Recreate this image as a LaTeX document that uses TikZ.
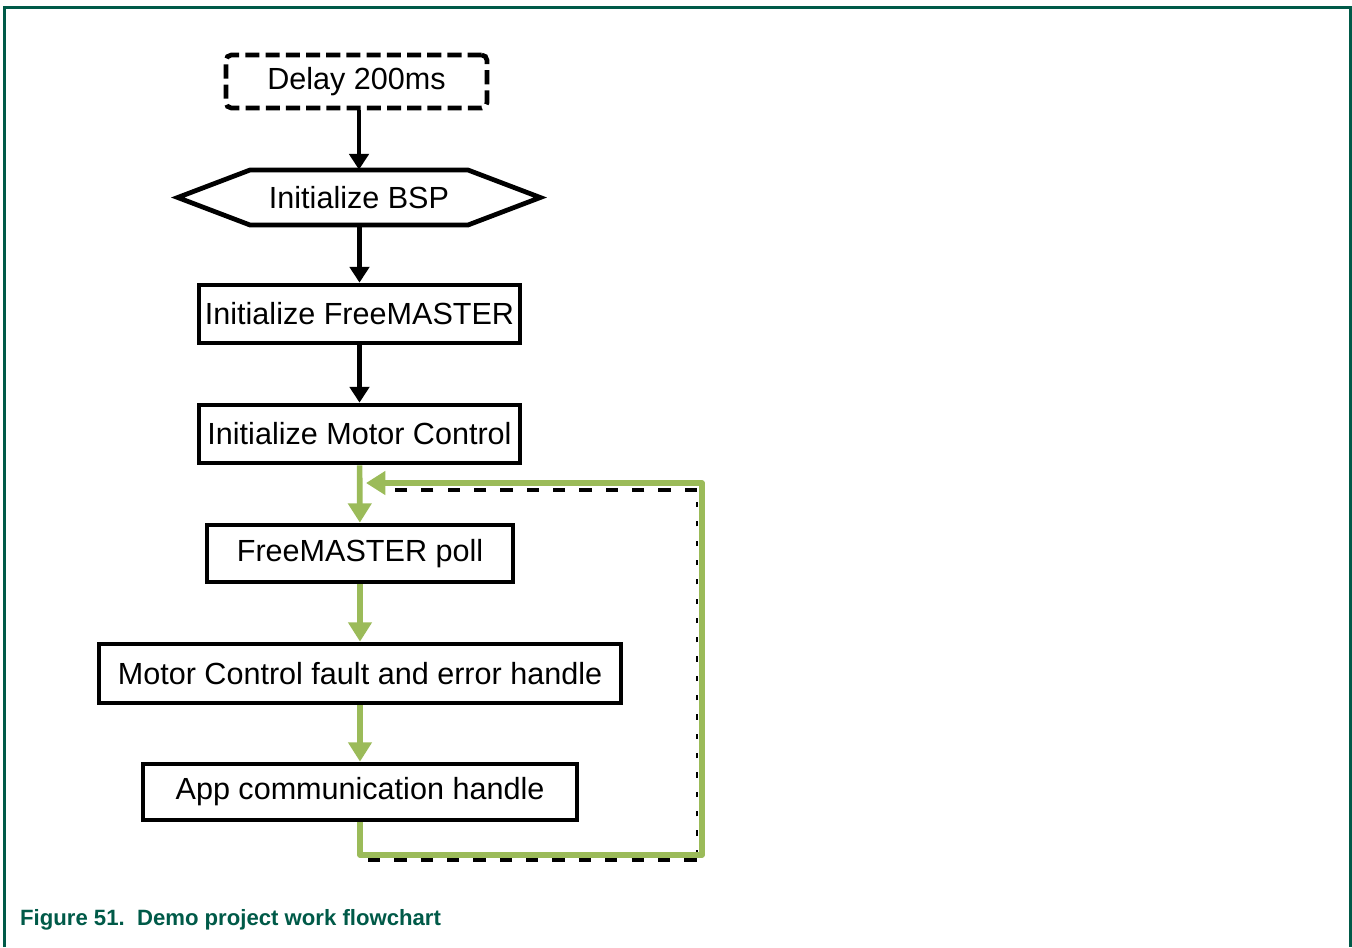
\documentclass[tikz,border=0pt]{standalone}
\usepackage{fontspec}
\setmainfont{Liberation Sans}
\usetikzlibrary{arrows.meta}
\definecolor{framegreen}{RGB}{0,90,72}
\definecolor{loopgreen}{RGB}{155,187,89}
\tikzset{
	box/.style={draw,line width=2.7pt,inner sep=0pt,font=\fontsize{17.4}{20}\selectfont},
	hexbox/.style={inner sep=0pt,font=\fontsize{17.4}{20}\selectfont},
	blkarrow/.style={line width=2.7pt,-{Triangle[length=9pt,width=11pt]}},
	grnarrow/.style={draw=loopgreen,line width=3.2pt,-{Triangle[length=11pt,width=13pt]},color=loopgreen}
}

\begin{document}
\begin{tikzpicture}
	\pgfmathsetmacro{\ul}{0.02};
	\useasboundingbox (0,0) rectangle (1352*\ul,-947*\ul);
	% frame and caption
	\draw[framegreen,line width=1.7pt] (4.5*\ul,-947*\ul)--(4.5*\ul,-7.3*\ul)--(1350*\ul,-7.3*\ul)--(1350*\ul,-947*\ul);
	\node[anchor=west,text=framegreen,font=\fontsize{12.6}{14}\selectfont\bfseries] (cap) at (14*\ul,-920*\ul) {Figure 51.\ \ Demo project work flowchart};
	% boxes
	\node[box,dash pattern=on 8pt off 3.5pt,rounded corners=3pt,minimum width=5.22cm,minimum height=1.06cm] (delay) at (356.5*\ul,-81.5*\ul) {Delay 200ms};
	\node[hexbox,minimum width=7.24cm,minimum height=1.1cm] (bsp) at (359*\ul,-197.5*\ul) {Initialize BSP};
	\draw[line width=2.7pt,line join=miter] (bsp.west)--(250*\ul,-170*\ul)--(468*\ul,-170*\ul)--(bsp.east)--(468*\ul,-225*\ul)--(250*\ul,-225*\ul)--cycle;
	\node[box,minimum width=6.42cm,minimum height=1.16cm] (fm) at (359.5*\ul,-314*\ul) {Initialize FreeMASTER};
	\node[box,minimum width=6.42cm,minimum height=1.16cm] (mc) at (359.5*\ul,-434*\ul) {Initialize Motor Control};
	\node[box,minimum width=6.12cm,minimum height=1.14cm] (poll) at (360*\ul,-553.5*\ul) {FreeMASTER poll};
	\node[box,minimum width=10.44cm,minimum height=1.18cm] (fault) at (360*\ul,-673.5*\ul) {Motor Control fault and error handle};
	\node[box,minimum width=8.68cm,minimum height=1.12cm] (app) at (360*\ul,-792*\ul) {App communication handle};
	% loop corners
	\coordinate (lpB) at (702*\ul,-855*\ul);
	\coordinate (lpT) at (366*\ul,-483*\ul);
	% arrows
	\draw[blkarrow] (bsp.north |- delay.south)--(bsp.north);
	\draw[blkarrow] (fm.north |- bsp.south)--(fm.north);
	\draw[blkarrow] (fm)--(mc);
	\draw[grnarrow] (mc)--(poll);
	\draw[grnarrow] (poll)--(fault);
	\draw[grnarrow] (fault)--(app);
	\draw[line width=2.4pt,dash pattern=on 7pt off 8pt] (368*\ul,-860*\ul)--(697*\ul,-860*\ul);
	\draw[line width=2.4pt,dash pattern=on 7pt off 8pt] (697*\ul,-490*\ul)--(382*\ul,-490*\ul);
	\draw[line width=0.8pt,dash pattern=on 3pt off 8pt] (697*\ul,-855*\ul)--(697*\ul,-495*\ul);
	\draw[grnarrow,line join=round] (app.south)|-(lpB)|-(lpT);
\end{tikzpicture}
\end{document}
